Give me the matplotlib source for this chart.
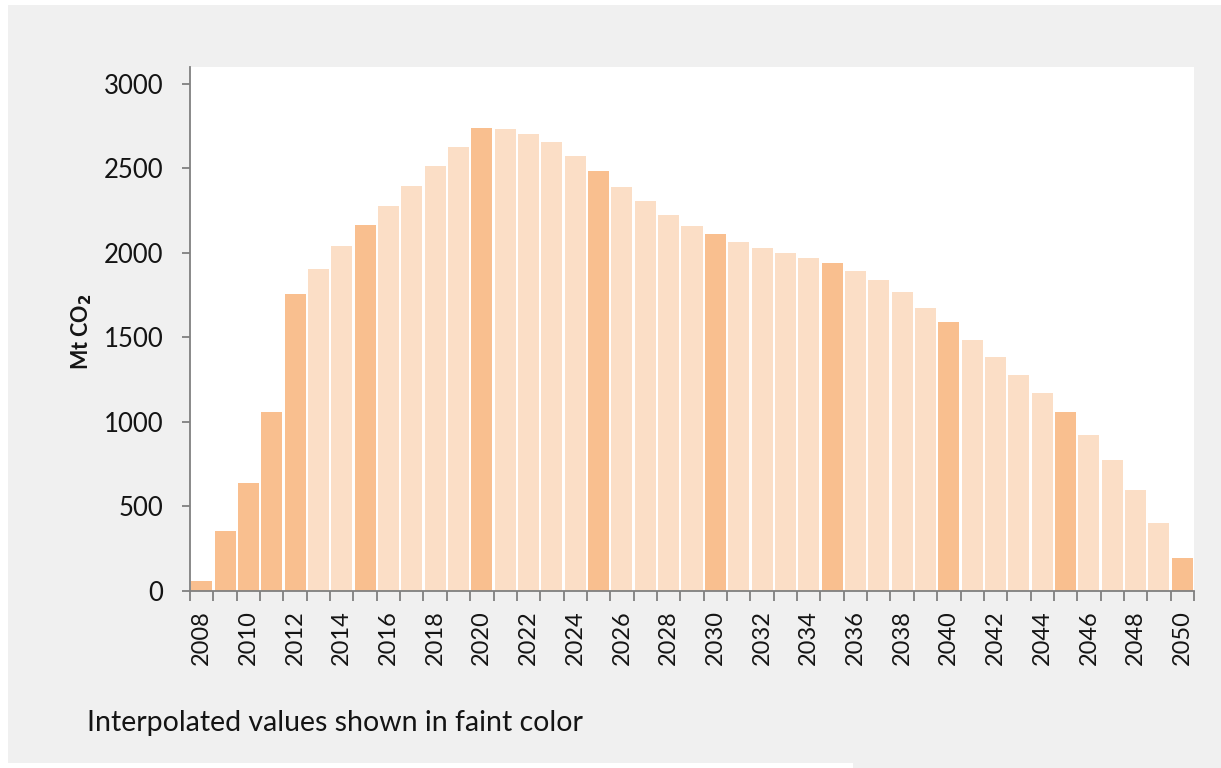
import matplotlib
matplotlib.use("Agg")
import matplotlib.pyplot as plt
from matplotlib.patches import Rectangle

years = list(range(2008, 2051))
values = [60, 355, 638, 1057, 1760, 1907, 2040, 2167, 2275, 2397,
          2512, 2627, 2740, 2733, 2705, 2654, 2573, 2487, 2390, 2305,
          2226, 2160, 2110, 2064, 2027, 2000, 1971, 1941, 1893, 1839,
          1768, 1676, 1590, 1486, 1382, 1280, 1169, 1057, 921, 774,
          600, 403, 193]
measured_years = [2008, 2009, 2010, 2011, 2012, 2015, 2020, 2025, 2030,
                  2035, 2040, 2045, 2050]
y_ticks = [0, 500, 1000, 1500, 2000, 2500, 3000]
caption = "Interpolated values shown in faint color"

dark = "#F9BF8F"
light = "#FBDEC6"
axis_gray = "#808080"
text_color = "#141414"

plt.rcParams['font.family'] = ['Lato', 'DejaVu Sans']

W, H = 1221, 768
fig = plt.figure(figsize=(W / 100, H / 100), dpi=100, facecolor="white")

# gray panel background
fig.patches.append(Rectangle((8 / W, 1 - 763 / H), 1 - 8 / W, (763 - 5) / H,
                             transform=fig.transFigure, facecolor="#F0F0F0",
                             edgecolor="none", zorder=-10))
fig.patches.append(Rectangle((853 / W, 0), 1 - 853 / W, 1 - 763 / H + 0.001,
                             transform=fig.transFigure, facecolor="#F0F0F0",
                             edgecolor="none", zorder=-10))

ax = fig.add_axes([190 / W, 1 - 591 / H, (1194 - 190) / W, (591 - 67) / H])
ax.set_facecolor("white")

pos = list(range(len(years)))
colors = [dark if y in measured_years else light for y in years]
ax.bar(pos, values, width=0.9, color=colors, edgecolor="none", zorder=2)

ax.set_xlim(-0.5, len(years) - 0.5)
ax.set_ylim(0, 3100)

for s in ["top", "right"]:
    ax.spines[s].set_visible(False)
for s in ["left", "bottom"]:
    ax.spines[s].set_color(axis_gray)
    ax.spines[s].set_linewidth(1.3)

ax.set_yticks(y_ticks)
ax.set_yticklabels([str(v) for v in y_ticks])
ax.tick_params(axis="y", direction="out", length=6, width=1.3, color=axis_gray,
               pad=13, labelsize=18.5, labelcolor=text_color)

# x: ticks at bar boundaries, labels at even years
bounds = [p - 0.5 for p in pos] + [pos[-1] + 0.5]
ax.set_xticks(bounds)
ax.set_xticklabels([""] * len(bounds))
ax.tick_params(axis="x", which="major", direction="out", length=7, width=1.3,
               color=axis_gray)
label_pos = [p for p, y in zip(pos, years) if y % 2 == 0]
ax.set_xticks(label_pos, minor=True)
ax.set_xticklabels([str(y) for y in years if y % 2 == 0], minor=True,
                   rotation=90)
ax.tick_params(axis="x", which="minor", length=0, pad=14, labelsize=17,
               labelcolor=text_color)

fig.text(82 / W, 1 - 332 / H, r"Mt CO$_\mathbf{2}$", rotation=90, ha="center",
         va="center", fontsize=15.5, fontweight="bold", color=text_color)

fig.text(87 / W, 1 - 723 / H, caption, ha="left", va="center", fontsize=20.5,
         color=text_color)

fig.savefig("out.png", dpi=100, facecolor="white")
